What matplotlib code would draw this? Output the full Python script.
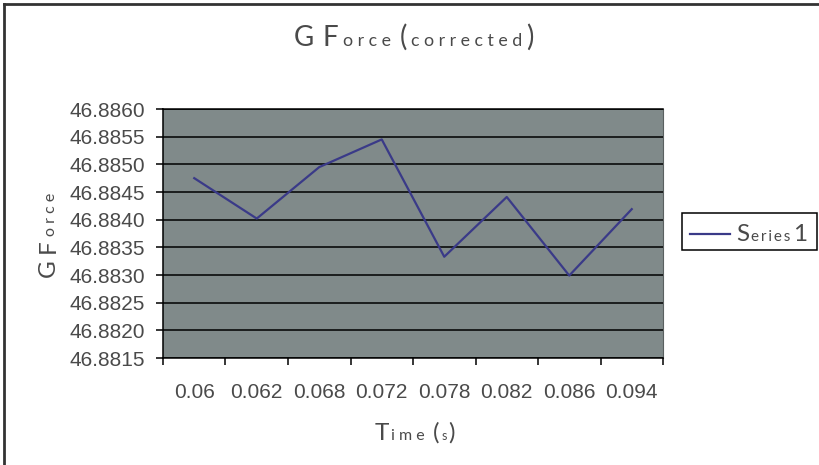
import numpy as np
import matplotlib
matplotlib.use("Agg")
import matplotlib.pyplot as plt
from matplotlib.lines import Line2D
from matplotlib.patches import Rectangle
from matplotlib.transforms import IdentityTransform
from matplotlib.ticker import FixedLocator, NullFormatter, FormatStrFormatter

time_labels = ["0.06", "0.062", "0.068", "0.072", "0.078", "0.082", "0.086", "0.094"]
gforce = [46.88475, 46.88402, 46.88495, 46.88545, 46.88333, 46.88441, 46.88299, 46.88419]
y_min, y_max, y_step = 46.8815, 46.8860, 0.0005

W, H = 820, 465
TEXT = "#4a4a4a"
HEAD = "Lato"

fig = plt.figure(figsize=(W / 100, H / 100), dpi=100)
fig.patch.set_facecolor("white")

# plot area in pixels: x 163..663, y 109..358 (from top)
ax = fig.add_axes([163 / W, 1 - 358 / H, 500 / W, 249 / H])
ax.set_facecolor("#808a8a")

x = np.arange(len(gforce))
ax.plot(x, gforce, color="#3a3a88", lw=1.6, zorder=3)

ax.set_xlim(-0.5, len(gforce) - 0.5)
ax.set_ylim(y_min, y_max)
yt = np.round(np.arange(y_min, y_max + y_step / 2, y_step), 4)
ax.set_yticks(yt)
ax.yaxis.set_major_formatter(FormatStrFormatter("%.4f"))
ax.yaxis.grid(True, color="black", lw=1.1)
ax.set_axisbelow(False)

# category axis: ticks between the categories, labels centred on them
ax.xaxis.set_major_locator(FixedLocator(np.arange(-0.5, len(gforce), 1.0)))
ax.xaxis.set_major_formatter(NullFormatter())
ax.xaxis.set_minor_locator(FixedLocator(x))
ax.set_xticklabels(time_labels, minor=True)
ax.tick_params(axis="x", which="major", direction="out", length=5, width=1.1, color="black")
ax.tick_params(axis="x", which="minor", length=0, pad=18, labelsize=15, labelcolor=TEXT)
ax.tick_params(axis="y", direction="out", length=5, width=1.1, color="black", pad=8,
               labelsize=15, labelcolor=TEXT)
for lab in ax.get_xticklabels(minor=True) + ax.get_yticklabels():
    lab.set_family("Liberation Sans")

for side in ("left", "bottom", "top"):
    ax.spines[side].set_color("black")
    ax.spines[side].set_linewidth(1.1)
ax.spines["right"].set_color("#5a6060")

renderer = fig.canvas.get_renderer()


def run_text(pieces, cx, base, vertical=False, color=TEXT):
    """Mixed-size label laid out piece by piece, centred on cx (pixels)."""
    arts, pos = [], 0.0
    for txt, size, gap in pieces:
        t = fig.text(0, 0, txt, fontsize=size, color=color, family=[HEAD, "DejaVu Sans"],
                     rotation=90 if vertical else 0,
                     rotation_mode="anchor", ha="left", va="baseline",
                     transform=IdentityTransform())
        ext = t.get_window_extent(renderer)
        arts.append((t, pos))
        pos += (ext.height if vertical else ext.width) + gap
    start = cx - pos / 2
    for t, off in arts:
        if vertical:
            t.set_position((base, start + off))
        else:
            t.set_position((start + off, base))


def spaced(s, sep=" "):
    return sep.join(s)


BIG, SMALL = 20, 12.8
run_text([("G", BIG, 8), ("F", BIG, 5), (spaced("orce"), SMALL, 9), ("(", BIG, 4),
          (spaced("corrected"), SMALL, 4), (")", BIG, 0)], 414, H - 46)
run_text([("T", 17.5, 2), (spaced("ime"), 11.5, 8), ("(", 17.5, 2), ("s", 9, 2),
          (")", 17.5, 0)], 415, H - 440)
run_text([("G", 17.5, 7), ("F", 17.5, 3), (spaced("orce"), 11.5, 0)], 465 - 235, 55,
         vertical=True)

# legend box
fig.add_artist(Rectangle((682 / W, 1 - 250 / H), 135 / W, 37 / H, transform=fig.transFigure,
                         facecolor="white", edgecolor="black", lw=1.1))
fig.add_artist(Line2D([690 / W, 730 / W], [1 - 234 / H] * 2, transform=fig.transFigure,
                      color="#3a3a88", lw=1.6))
run_text([("S", 17.5, 1), (spaced("eries", "\u2009"), 11, 3), ("1", 17.5, 0)], 772, H - 241)

# chart frame
fig.add_artist(Line2D([4 / W, 1], [1 - 4 / H] * 2, transform=fig.transFigure,
                      color="#333333", lw=2))
fig.add_artist(Line2D([4 / W] * 2, [0, 1 - 4 / H], transform=fig.transFigure,
                      color="#333333", lw=2))

fig.savefig("out.png", dpi=100)
